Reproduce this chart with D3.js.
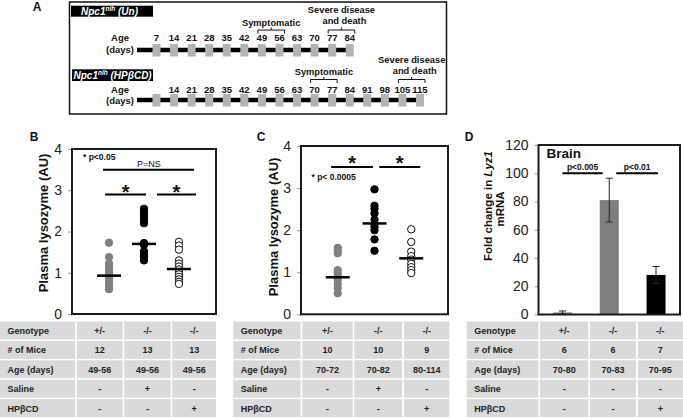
<!DOCTYPE html>
<html><head><meta charset="utf-8">
<script src="https://cdn.jsdelivr.net/npm/d3@7"></script>
<style>
body{margin:0;background:#fff}
svg{display:block}
text{font-family:"Liberation Sans",Arial,Helvetica,sans-serif}
</style>
</head><body>
<svg id="c" width="683" height="418"></svg>
<script>
// ---------------- DATA ----------------
// Panel A timelines
const unDays = [7, 14, 21, 28, 35, 42, 49, 56, 63, 70, 77, 84];
const unDayLabels = ["7", "14", "21", "28", "35", "42", "49", "56", "63", "70", "77", "84"];
const cdDays = [7, 14, 21, 28, 35, 42, 49, 56, 63, 70, 77, 84, 91, 98, 105, 115];
const cdDayLabels = ["", "14", "21", "28", "35", "42", "49", "56", "63", "70", "77", "84", "91", "98", "105", "115"];
const unSymptomatic = [49, 56];
const unSevere = [77, 84];
const cdSymptomatic = [70, 77];
const cdSevere = [105, 115];

// Panels B & C: plasma lysozyme (AU)
const scatterGroups = ["+/-", "-/- Saline", "-/- HPβCD"];
const bHet = [1.73, 1.38, 1.22, 1.12, 1.04, 0.98, 0.92, 0.86, 0.80, 0.74, 0.68, 0.60];
const bSaline = [2.55, 2.48, 2.42, 2.35, 2.28, 2.20, 1.72, 1.68, 1.52, 1.45, 1.38, 1.33, 1.30];
const bHpbcd = [1.75, 1.66, 1.56, 1.30, 1.22, 1.15, 1.08, 1.02, 0.96, 0.90, 0.84, 0.78, 0.73];
const bMeans = [0.93, 1.70, 1.09];
const cHet = [1.58, 1.52, 1.45, 1.05, 0.98, 0.90, 0.82, 0.72, 0.62, 0.50];
const cSaline = [2.97, 2.58, 2.50, 2.40, 2.25, 2.15, 2.08, 2.00, 1.78, 1.51];
const cHpbcd = [2.02, 1.72, 1.49, 1.38, 1.30, 1.20, 1.12, 1.05, 0.98];
const cMeans = [0.88, 2.16, 1.33];
const lysTicks = [0, 1, 2, 3, 4];

// Panel D: brain Lyz1 fold change
const dGroups = ["+/-", "-/- Saline", "-/- HPβCD"];
const dMeans = [1.5, 81, 28];
const dErr = [1, 15.5, 6];
const dTicks = [0, 20, 40, 60, 80, 100, 120];

// Tables
const rowLabels = ["Genotype", "# of Mice", "Age (days)", "Saline", "HPβCD"];
const tableB = [["+/-", "-/-", "-/-"], ["12", "13", "13"], ["49-56", "49-56", "49-56"], ["-", "+", "-"], ["-", "-", "+"]];
const tableC = [["+/-", "-/-", "-/-"], ["10", "10", "9"], ["70-72", "70-82", "80-114"], ["-", "+", "-"], ["-", "-", "+"]];
const tableD = [["+/-", "-/-", "-/-"], ["6", "6", "7"], ["70-80", "70-83", "70-95"], ["-", "-", "-"], ["-", "-", "+"]];

// ---------------- DRAWING ----------------
const svg = d3.select("#c");
const GRAY = "#808080";
const SQ = "#b3b3b3";

function txt(g, x, y, s, o = {}) {
  return g.append("text").attr("x", x).attr("y", y).text(s)
    .attr("font-size", o.size || 10)
    .attr("font-weight", o.weight || "bold")
    .attr("font-style", o.style || "normal")
    .attr("text-anchor", o.anchor || "start")
    .attr("fill", o.fill || "#111");
}

// ===== Panel A =====
const A = svg.append("g");
txt(A, 37, 11, "A", {size: 12, anchor: "middle"});
A.append("rect").attr("x", 69.5).attr("y", 2).attr("width", 377).attr("height", 112)
  .attr("fill", "none").attr("stroke", "#111").attr("stroke-width", 1.5);

const tx = d3.scalePoint().domain(d3.range(cdDays.length)).range([156.5, 420]);

function labelBox(x, y, w, h, tail) {
  A.append("rect").attr("x", x).attr("y", y).attr("width", w).attr("height", h).attr("fill", "#000");
  const t = A.append("text").attr("x", x + (tail === "(Un)" ? 10 : 1.5)).attr("y", y + h - 2.2)
    .attr("font-size", 10).attr("font-weight", "bold").attr("font-style", "italic").attr("fill", "#fff");
  t.append("tspan").text("Npc1");
  t.append("tspan").text("nih").attr("font-size", 6.5).attr("dy", -3.5);
  t.append("tspan").text(" " + tail).attr("dy", 3.5);
}
labelBox(71, 5.7, 82, 11, "(Un)");
labelBox(72, 69.3, 81, 11.7, "(HPβCD)");

function timeline(days, labels, lineY, labelY, daysY, lineEnd) {
  txt(A, 120, labelY, "Age", {size: 9.5, anchor: "middle"});
  txt(A, 120, daysY, "(days)", {size: 9.5, anchor: "middle"});
  A.append("line").attr("x1", 137).attr("x2", tx(days.length - 1) - 2)
    .attr("y1", lineY).attr("y2", lineY).attr("stroke", "#000").attr("stroke-width", 4.5);
  A.selectAll(null).data(days).enter().append("rect")
    .attr("x", (d, i) => tx(i) - 4).attr("y", lineY - 6).attr("width", 8).attr("height", 12.5)
    .attr("fill", SQ);
  A.selectAll(null).data(labels).enter().append("text")
    .attr("x", (d, i) => tx(i)).attr("y", labelY).text(d => d)
    .attr("font-size", 9.5).attr("font-weight", "bold").attr("text-anchor", "middle").attr("fill", "#111");
}
timeline(unDays, unDayLabels, 50, 41.3, 52.5, 347);
timeline(cdDays, cdDayLabels, 100, 93.3, 103.8, 420);

function bracket(days, range, yTop, lines, textY) {
  const x1 = tx(days.indexOf(range[0])) - 4, x2 = tx(days.indexOf(range[1])) + 5;
  const xm = (x1 + x2) / 2;
  A.append("path").attr("d", `M${x1},${yTop + 3.5}V${yTop}H${x2}V${yTop + 3.5}M${xm},${yTop}V${yTop - 2.5}`)
    .attr("fill", "none").attr("stroke", "#111").attr("stroke-width", 1);
  lines.forEach((s, i) => txt(A, xm + (i === 1 && lines.length > 1 ? 3 : 0), textY + i * 11, s, {size: 9.3, anchor: "middle"}));
}
bracket(unDays, unSymptomatic, 30, ["Symptomatic"], 25.5);
bracket(unDays, unSevere, 30, ["Severe disease", "and death"], 12.5);
bracket(cdDays, cdSymptomatic, 79.5, ["Symptomatic"], 74.5);
bracket(cdDays, cdSevere, 79.5, ["Severe disease", "and death"], 62.5);

// ===== Scatter panels =====
function scatterPanel(o) {
  const g = svg.append("g");
  const y = d3.scaleLinear().domain([0, 4]).range([o.y0, o.y1]);
  const x = d3.scalePoint().domain(scatterGroups).range([o.x0, o.x1]).padding(o.pad);
  txt(g, o.letterX, 141, o.letter, {size: 12, anchor: "middle"});
  // ticks
  const ax = g.append("g").attr("transform", `translate(${o.x0},0)`)
    .call(d3.axisLeft(y).tickValues(lysTicks).tickSize(4).tickPadding(6).tickFormat(d3.format("d")));
  ax.select(".domain").remove();
  ax.selectAll(".tick line").attr("stroke", "#999");
  ax.selectAll(".tick text").attr("font-size", 14).attr("fill", "#222")
    .attr("font-family", '"Liberation Sans",Arial,sans-serif');
  g.append("rect").attr("x", o.x0).attr("y", o.y1).attr("width", o.x1 - o.x0).attr("height", o.y0 - o.y1)
    .attr("fill", "none").attr("stroke", "#1a1a1a").attr("stroke-width", 2);
  // y title
  g.append("text").attr("transform", `translate(${o.titleX},${o.titleY}) rotate(-90)`)
    .attr("text-anchor", "middle").attr("font-size", 13).attr("font-weight", "bold").attr("fill", "#111")
    .text("Plasma lysozyme (AU)");
  const sets = [o.het, o.sal, o.cd];
  const styles = [{fill: GRAY, stroke: GRAY}, {fill: "#000", stroke: "#000"}, {fill: "#fff", stroke: "#111"}];
  sets.forEach((vals, i) => {
    g.selectAll(null).data(vals).enter().append("circle")
      .attr("cx", x(scatterGroups[i])).attr("cy", d => y(d)).attr("r", 3.7)
      .attr("fill", styles[i].fill).attr("stroke", styles[i].stroke).attr("stroke-width", 1);
  });
  g.selectAll(null).data(o.means).enter().append("line")
    .attr("x1", (d, i) => x(scatterGroups[i]) - 12).attr("x2", (d, i) => x(scatterGroups[i]) + 12)
    .attr("y1", d => y(d)).attr("y2", d => y(d)).attr("stroke", "#000").attr("stroke-width", 2.5);
  return {g, x, y};
}

const B = scatterPanel({x0: 72, x1: 216, y0: 314, y1: 149, pad: 1.06, het: bHet, sal: bSaline, cd: bHpbcd,
  means: bMeans, letter: "B", letterX: 34, titleX: 48, titleY: 223});
{
  const {g, x, y} = B;
  const X = scatterGroups.map(d => x(d));
  txt(g, 83, 160, "* p<0.05", {size: 8.5});
  txt(g, (X[0] + X[2]) / 2 + 5, 166.5, "P=NS", {size: 9, weight: "normal", anchor: "middle"});
  g.append("line").attr("x1", X[0] - 6).attr("x2", X[2] + 15).attr("y1", y(3.5)).attr("y2", y(3.5)).attr("stroke", "#000").attr("stroke-width", 2);
  const l1 = [X[0] - 4, X[1] + 2], l2 = [X[1] + 13, X[2] + 17];
  [l1, l2].forEach(l => {
    g.append("line").attr("x1", l[0]).attr("x2", l[1]).attr("y1", y(2.9)).attr("y2", y(2.9)).attr("stroke", "#000").attr("stroke-width", 2);
    txt(g, (l[0] + l[1]) / 2, y(2.9) + 5, "*", {size: 20, anchor: "middle"});
  });
}

const C = scatterPanel({x0: 301, x1: 448, y0: 314.3, y1: 146, pad: 1.0, het: cHet, sal: cSaline, cd: cHpbcd,
  means: cMeans, letter: "C", letterX: 261, titleX: 278, titleY: 227});
{
  const {g, x, y} = C;
  const X = scatterGroups.map(d => x(d));
  txt(g, 311.5, 180, "* p< 0.0005", {size: 8.5});
  const l1 = [X[0] - 6.6, X[1] - 1.6], l2 = [X[1] + 4.7, X[2] + 9];
  [l1, l2].forEach(l => {
    g.append("line").attr("x1", l[0]).attr("x2", l[1]).attr("y1", y(3.5)).attr("y2", y(3.5)).attr("stroke", "#000").attr("stroke-width", 2);
    txt(g, (l[0] + l[1]) / 2, y(3.5) + 2.5, "*", {size: 20, anchor: "middle"});
  });
}

// ===== Panel D =====
{
  const g = svg.append("g");
  const x0 = 538.5, x1 = 680, y0 = 314.5, y1 = 145;
  const y = d3.scaleLinear().domain([0, 120]).range([y0, y1]);
  const x = d3.scaleBand().domain(dGroups).range([x0, x1]).paddingInner(0.594).paddingOuter(0.31);
  txt(g, 469, 141, "D", {size: 12, anchor: "middle"});
  const ax = g.append("g").attr("transform", `translate(${x0},0)`)
    .call(d3.axisLeft(y).tickValues(dTicks).tickSize(4).tickPadding(6));
  ax.select(".domain").remove();
  ax.selectAll(".tick line").attr("stroke", "#999");
  ax.selectAll(".tick text").attr("font-size", 14).attr("fill", "#222")
    .attr("font-family", '"Liberation Sans",Arial,sans-serif');
  const colors = ["#8c8c8c", "#7f7f7f", "#000"];
  g.selectAll(null).data(dMeans).enter().append("rect")
    .attr("x", (d, i) => x(dGroups[i])).attr("width", x.bandwidth())
    .attr("y", d => y(d)).attr("height", d => y0 - y(d)).attr("fill", (d, i) => colors[i]);
  dMeans.forEach((m, i) => {
    const cx = x(dGroups[i]) + x.bandwidth() / 2;
    g.append("path").attr("d", `M${cx},${y(m + dErr[i])}V${y(m - dErr[i])}M${cx - 3.5},${y(m + dErr[i])}H${cx + 3.5}M${cx - 3.5},${y(m - dErr[i])}H${cx + 3.5}`)
      .attr("stroke", "#222").attr("stroke-width", 1).attr("fill", "none");
  });
  g.append("rect").attr("x", x0).attr("y", y1).attr("width", x1 - x0).attr("height", y0 - y1)
    .attr("fill", "none").attr("stroke", "#1a1a1a").attr("stroke-width", 2);
  txt(g, 546.5, 157.5, "Brain", {size: 13.5});
  const t = g.append("text").attr("transform", "translate(492,206) rotate(-90)")
    .attr("text-anchor", "middle").attr("font-size", 11.5).attr("font-weight", "bold").attr("fill", "#111");
  t.append("tspan").text("Fold change in ");
  t.append("tspan").text("Lyz1").attr("font-style", "italic");
  g.append("text").attr("transform", "translate(503.5,209) rotate(-90)")
    .attr("text-anchor", "middle").attr("font-size", 11.5).attr("font-weight", "bold").attr("fill", "#111").text("mRNA");
  const c = dGroups.map(d => x(d) + x.bandwidth() / 2);
  const sig = [[c[0], c[1] - 6.5, "p<0.005"], [c[1] + 7, c[2] + 2, "p<0.01"]];
  sig.forEach(s => {
    g.append("line").attr("x1", s[0]).attr("x2", s[1]).attr("y1", y(100)).attr("y2", y(100)).attr("stroke", "#000").attr("stroke-width", 2);
    txt(g, (s[0] + s[1]) / 2, y(100) - 3, s[2], {size: 8.5, anchor: "middle"});
  });
}

// ===== Tables =====
function table(cols, data) {
  const g = svg.append("g");
  const rowTop = d3.range(rowLabels.length).map(i => 321.5 + i * 19.4);
  rowLabels.forEach((lab, r) => {
    cols.forEach((c, ci) => {
      g.append("rect").attr("x", c[0]).attr("y", rowTop[r]).attr("width", c[1] - c[0]).attr("height", 18)
        .attr("fill", "#d9d9d9");
      const s = ci === 0 ? lab : data[r][ci - 1];
      txt(g, ci === 0 ? c[0] + 7.5 : (c[0] + c[1]) / 2, rowTop[r] + 12.5, s,
        {size: 9, anchor: ci === 0 ? "start" : "middle", fill: "#222"});
    });
  });
}
table([[0, 75], [76.7, 122.7], [124.3, 170.7], [172.3, 216]], tableB);
table([[233.3, 300.7], [302.3, 352.7], [354.3, 402.3], [404, 449.3]], tableC);
table([[466.7, 538.5], [540, 588.3], [590, 636], [637.7, 683]], tableD);
</script>
</body></html>
